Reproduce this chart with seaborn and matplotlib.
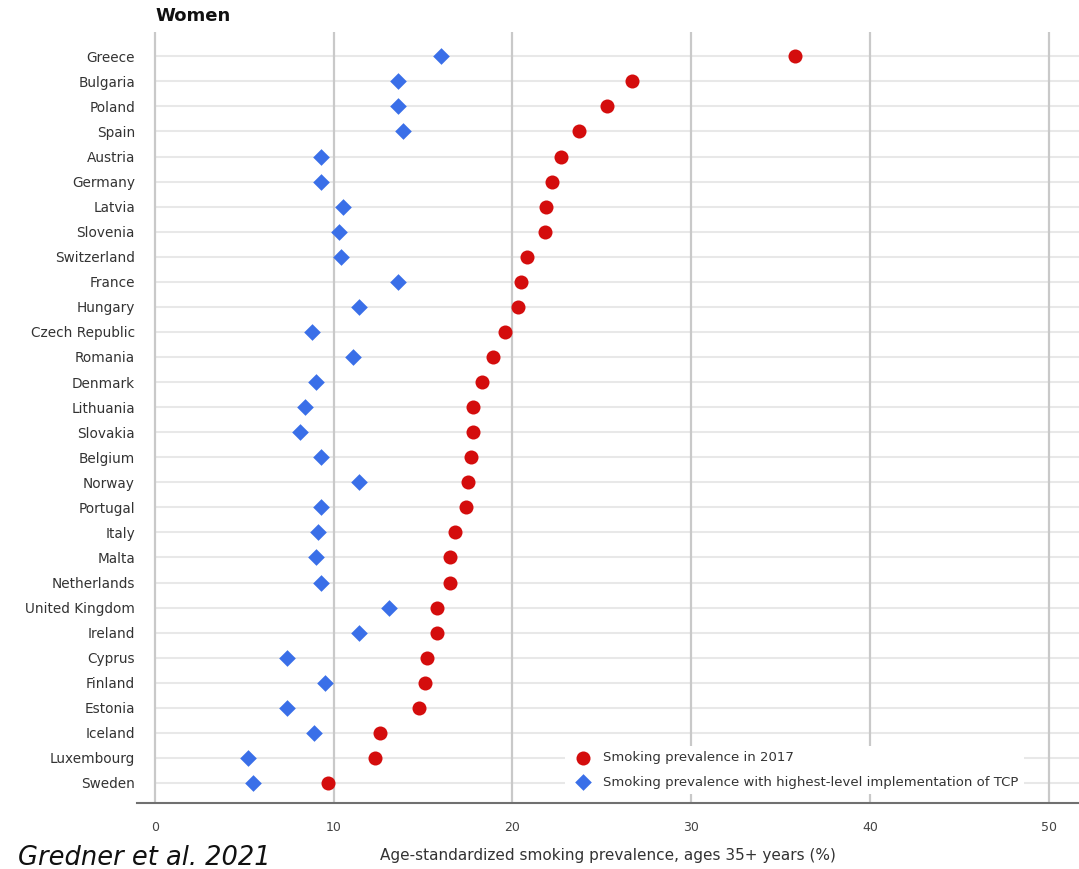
import matplotlib
matplotlib.use("Agg")
import matplotlib.pyplot as plt
import seaborn as sns
import pandas as pd

# countries, top to bottom
countries = ["Greece", "Bulgaria", "Poland", "Spain", "Austria", "Germany", "Latvia",
             "Slovenia", "Switzerland", "France", "Hungary", "Czech Republic", "Romania",
             "Denmark", "Lithuania", "Slovakia", "Belgium", "Norway", "Portugal", "Italy",
             "Malta", "Netherlands", "United Kingdom", "Ireland", "Cyprus", "Finland",
             "Estonia", "Iceland", "Luxembourg", "Sweden"]

# smoking prevalence in 2017 (%)
prev_2017 = [35.8, 26.7, 25.3, 23.7, 22.7, 22.2, 21.9, 21.8, 20.8, 20.5, 20.3, 19.6,
             18.9, 18.3, 17.8, 17.8, 17.7, 17.5, 17.4, 16.8, 16.5, 16.5, 15.8, 15.8,
             15.2, 15.1, 14.8, 12.6, 12.3, 9.7]

# with highest-level implementation of TCP (%)
prev_tcp = [16.0, 13.6, 13.6, 13.9, 9.3, 9.3, 10.5, 10.3, 10.4, 13.6, 11.4, 8.8,
            11.1, 9.0, 8.4, 8.1, 9.3, 11.4, 9.3, 9.1, 9.0, 9.3, 13.1, 11.4,
            7.4, 9.5, 7.4, 8.9, 5.2, 5.5]

x_ticks = [0, 10, 20, 30, 40, 50]

df = pd.DataFrame({"country": countries, "prev_2017": prev_2017, "prev_tcp": prev_tcp})

sns.set_style("white")
plt.rcParams["font.family"] = ["DejaVu Sans"]

fig = plt.figure(figsize=(10.79, 8.69), dpi=100)
ax = fig.add_axes([0.127, 0.0759, 0.873, 0.887])

# light row lines
ax.hlines(range(len(countries)), 0, 51.7, color="#e8e8e8", lw=1.5, zorder=0)

sns.scatterplot(data=df, x="prev_2017", y="country", ax=ax, color="#d40d0d",
                marker="o", s=102, linewidth=0, zorder=3,
                label="Smoking prevalence in 2017")
sns.scatterplot(data=df, x="prev_tcp", y="country", ax=ax, color="#3a6fe8",
                marker="D", s=72, linewidth=0, zorder=3,
                label="Smoking prevalence with highest-level implementation of TCP")

ax.set_xlim(-1.0, 51.7)
ax.set_ylim(len(countries) - 0.2, -0.96)
ax.set_xticks(x_ticks)
ax.grid(axis="x", color="#c9c9c9", lw=1.6)
ax.grid(axis="y", visible=False)
ax.set_axisbelow(True)

for side in ["top", "right", "left"]:
    ax.spines[side].set_visible(False)
ax.spines["bottom"].set_color("#707070")
ax.spines["bottom"].set_linewidth(1.5)

ax.tick_params(axis="y", length=0, pad=1.5, labelsize=9.8, labelcolor="#333333")
ax.tick_params(axis="x", length=6, width=1.4, color="#c9c9c9", pad=7,
               labelsize=9, labelcolor="#444444", direction="out")

ax.set_ylabel("")
ax.set_xlabel("Age-standardized smoking prevalence, ages 35+ years (%)",
              fontsize=11, color="#333333", labelpad=10)

leg = ax.legend(loc="center left", bbox_to_anchor=(0.447, 0.043), frameon=True,
                fontsize=9.5, handlelength=2.0, handletextpad=0.5, labelspacing=0.85,
                borderpad=0.4, markerscale=1.0)
leg.get_frame().set_facecolor("white")
leg.get_frame().set_edgecolor("none")
leg.get_frame().set_alpha(1)
for t in leg.get_texts():
    t.set_color("#333333")

fig.text(155 / 1079, 1 - 16 / 869, "Women", fontsize=13, fontweight="bold",
         ha="left", va="center", color="#111111")
fig.text(18 / 1079, 1 - 858 / 869, "Gredner et al. 2021", fontsize=18.5,
         style="italic", ha="left", va="center", color="#111111")

fig.savefig("out.png", dpi=100)
